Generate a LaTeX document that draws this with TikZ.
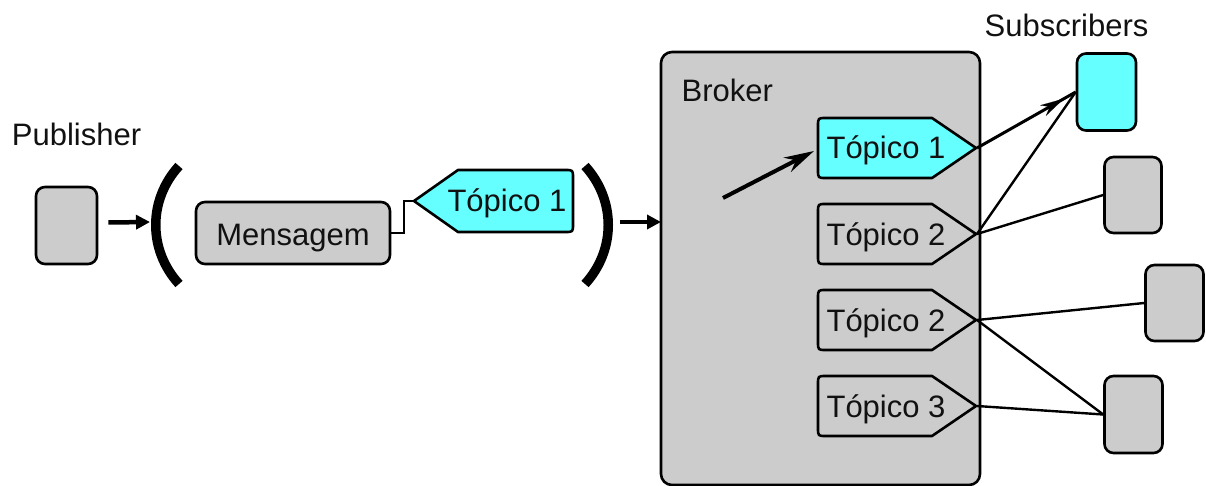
\documentclass[tikz,border=0pt]{standalone}
\usepackage{fontspec}
\setmainfont{Liberation Sans}
\usetikzlibrary{arrows.meta,calc}
\definecolor{boxgray}{HTML}{CCCCCC}
\definecolor{topiccyan}{HTML}{66FFFF}
\definecolor{inkblack}{HTML}{111111}
\tikzset{
  lbl/.style={font=\fontsize{31}{36}\selectfont, text=inkblack, inner sep=0pt},
  rbox/.style={draw=black, line width=2.6pt, rounded corners=9pt, fill=boxgray,
    inner sep=0pt},
  tagshape/.style={draw=black, line width=2.6pt, line join=round, fill=boxgray},
  link/.style={draw=black, line width=2.4pt},
  bigarrow/.style={draw=black, line width=4.5pt,
    -{Triangle[length=14pt,width=14pt]}},
  paren/.style={draw=black, line width=9.5pt},
}
\begin{document}
\begin{tikzpicture}[x=1pt,y=-1pt]
\useasboundingbox (0,0) rectangle (1206,486);

% ---------- publisher side ----------
\node[lbl, anchor=base] (publab) at (76.5,146) {Publisher};
\node[rbox, minimum width=61pt, minimum height=77pt] (pub) at (66.5,225.5) {};

\coordinate (lpar) at (150,222);
\draw[bigarrow] (pub.east) ++(10,-3) coordinate (pubout) -- (lpar);

% left and right parentheses
\draw[paren] (179,166) .. controls (148,200) and (148,250) .. (179,284);
\draw[paren] (585,166) .. controls (616,200) and (616,250) .. (585,284);

% message with its topic tag
\node[rbox, minimum width=194pt, minimum height=62pt] (msg) at (293,233) {};
\node[lbl, anchor=base] (msglab) at (293,246) {Mensagem};

\draw[tagshape, fill=topiccyan] (414,201) -- (458,170) -- (565,170)
  .. controls (573,170) .. (573,178) -- (573,224)
  .. controls (573,232) .. (565,232) -- (458,232) -- cycle;
\coordinate (msgtag) at (414,201);
\node[lbl, anchor=base] (msgtaglab) at (507,212) {Tópico 1};
\draw[link, line width=2pt] (msg.east) -- ++(13,0) |- (msgtag);

\coordinate (brokerin) at (661,222);
\draw[bigarrow] (620,222) coordinate (parout) -- (brokerin);

% ---------- broker ----------
\node[rbox, rounded corners=11pt, minimum width=319pt, minimum height=433pt]
  (broker) at (820.5,268.5) {};
\node[lbl, anchor=base west] (brokerlab) at (681.5,101.5) {Broker};

% topic tags inside the broker: #1 = top edge, #2 = fill, #3 = tip name
\newcommand\topictag[3]{%
  \draw[tagshape, fill=#2] (826,#1) -- (932,#1) -- (976,#1+30) -- (932,#1+60)
    -- (826,#1+60) .. controls (818,#1+60) .. (818,#1+52) -- (818,#1+8)
    .. controls (818,#1) .. (826,#1) -- cycle;
  \coordinate (#3) at (977,#1+30);}
\topictag{118}{topiccyan}{tipA}
\topictag{204}{boxgray}{tipB}
\topictag{290}{boxgray}{tipC}
\topictag{376}{boxgray}{tipD}
\node[lbl, anchor=base] (tA) at (886,159) {Tópico 1};
\node[lbl, anchor=base] (tB) at (886,245) {Tópico 2};
\node[lbl, anchor=base] (tC) at (886,331) {Tópico 2};
\node[lbl, anchor=base] (tD) at (886,417) {Tópico 3};

\coordinate (inA) at (723,198);
\coordinate (inB) at (814,151);
\draw[draw=black, line width=4pt, -{Stealth[length=30pt,width=16pt]}] (inA) -- (inB);

% ---------- subscribers ----------
\node[lbl, anchor=base] (sublab) at (1066.5,37) {Subscribers};
\node[rbox, fill=topiccyan, minimum width=59pt, minimum height=77pt] (s1) at (1106.5,92) {};
\node[rbox, minimum width=57pt, minimum height=76pt] (s2) at (1133,195) {};
\node[rbox, minimum width=58pt, minimum height=76pt] (s3) at (1174.5,303) {};
\node[rbox, minimum width=58pt, minimum height=77pt] (s4) at (1133.5,414.5) {};

\draw[link, line width=3pt] (tipA) -- (s1.west);
\draw[line width=0.1pt, -{Stealth[length=24pt,width=12pt]}]
  (tipA) -- ($(tipA)!0.88!(s1.west)$);
\draw[link] (tipB) -- (s1.west);
\draw[link] (tipB) -- (s2.west);
\draw[link] (tipC) -- (s3.west);
\draw[link] (tipC) -- (s4.west);
\draw[link] (tipD) -- (s4.west);
\end{tikzpicture}
\end{document}
